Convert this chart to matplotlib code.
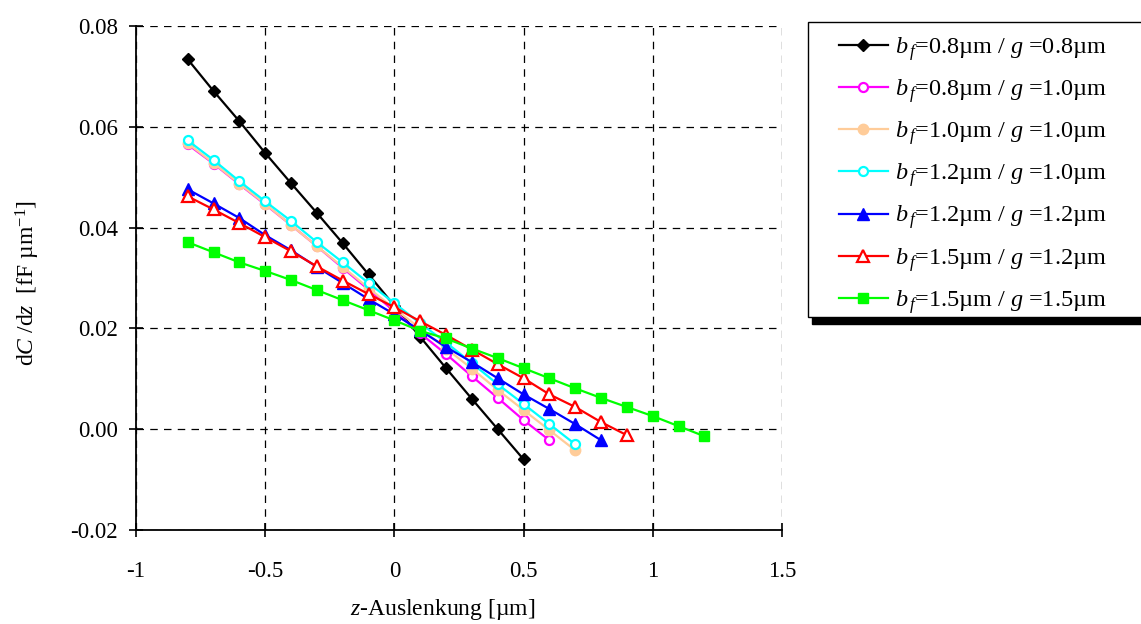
import matplotlib
matplotlib.use('Agg')
import matplotlib.pyplot as plt
from matplotlib.patches import Rectangle
import numpy as np

plt.rcParams['font.family'] = ['Liberation Serif', 'DejaVu Serif']
plt.rcParams['mathtext.fontset'] = 'custom'
plt.rcParams['mathtext.rm'] = 'Liberation Serif'
plt.rcParams['mathtext.it'] = 'Liberation Serif:italic'

# data
x_start = -0.8
labels = [
    r'$b_{\,f}$=0.8µm / $g$ =0.8µm',
    r'$b_{\,f}$=0.8µm / $g$ =1.0µm',
    r'$b_{\,f}$=1.0µm / $g$ =1.0µm',
    r'$b_{\,f}$=1.2µm / $g$ =1.0µm',
    r'$b_{\,f}$=1.2µm / $g$ =1.2µm',
    r'$b_{\,f}$=1.5µm / $g$ =1.2µm',
    r'$b_{\,f}$=1.5µm / $g$ =1.5µm',
]
bf08_g08 = [0.0734, 0.0671, 0.0611, 0.0548, 0.0488, 0.0429, 0.0369, 0.0307,
            0.0245, 0.0183, 0.0121, 0.0060, 0.0000, -0.0060]
bf08_g10 = [0.0565, 0.0527, 0.0486, 0.0446, 0.0405, 0.0363, 0.0320, 0.0277,
            0.0234, 0.0190, 0.0149, 0.0105, 0.0062, 0.0018, -0.0022]
bf10_g10 = [0.0567, 0.0528, 0.0487, 0.0447, 0.0405, 0.0363, 0.0322, 0.0280,
            0.0239, 0.0200, 0.0160, 0.0120, 0.0078, 0.0038, -0.0002, -0.0042]
bf12_g10 = [0.0573, 0.0534, 0.0492, 0.0452, 0.0413, 0.0371, 0.0331, 0.0290,
            0.0250, 0.0210, 0.0172, 0.0131, 0.0089, 0.0050, 0.0010, -0.0030]
bf12_g12 = [0.0476, 0.0448, 0.0419, 0.0385, 0.0355, 0.0322, 0.0290, 0.0258,
            0.0228, 0.0196, 0.0163, 0.0133, 0.0101, 0.0069, 0.0040, 0.0010,
            -0.0022]
bf15_g12 = [0.0462, 0.0436, 0.0409, 0.0381, 0.0353, 0.0323, 0.0295, 0.0268,
            0.0242, 0.0214, 0.0187, 0.0158, 0.0129, 0.0101, 0.0069, 0.0044,
            0.0014, -0.0012]
bf15_g15 = [0.0371, 0.0351, 0.0331, 0.0314, 0.0296, 0.0276, 0.0256, 0.0236,
            0.0216, 0.0195, 0.0180, 0.0160, 0.0141, 0.0121, 0.0101, 0.0081,
            0.0062, 0.0044, 0.0026, 0.0006, -0.0014]
series = [bf08_g08, bf08_g10, bf10_g10, bf12_g10, bf12_g12, bf15_g12, bf15_g15]

x_ticks = [-1, -0.5, 0, 0.5, 1, 1.5]
x_ticklabels = ['-1', '-0.5', '0', '0.5', '1', '1.5']
y_ticks = [-0.02, 0.0, 0.02, 0.04, 0.06, 0.08]

styles = [
    dict(color='black', marker='D', ms=6, mfc='black'),
    dict(color='#FF00FF', marker='o', ms=6.5, mfc='white', mew=1.6),
    dict(color='#FFCC99', marker='o', ms=7.5, mfc='#FFCC99'),
    dict(color='#00FFFF', marker='o', ms=6.5, mfc='white', mew=1.6),
    dict(color='#0000FF', marker='^', ms=9, mfc='#0000FF'),
    dict(color='#FF0000', marker='^', ms=8, mfc='white', mew=1.6),
    dict(color='#00FF00', marker='s', ms=7, mfc='#00FF00'),
]

W, H = 1141, 624
fig = plt.figure(figsize=(W/100, H/100), dpi=100)
ax = fig.add_axes([136/W, 94/H, 646/W, 504/H])

for y, lab, st in zip(series, labels, styles):
    x = np.round(x_start + 0.1*np.arange(len(y)), 2)
    ax.plot(x, y, lw=1.6, label=lab, mec=st['color'], **st)

ax.set_xlim(-1, 1.5)
ax.set_ylim(-0.02, 0.08)
ax.set_xticks(x_ticks)
ax.set_xticklabels(x_ticklabels)
ax.set_yticks(y_ticks)
ax.set_yticklabels(['%.2f' % v for v in y_ticks])
ax.tick_params(direction='inout', length=10, width=1.2, labelsize=16.5, colors='black')
ax.tick_params(axis='x', pad=17)
ax.tick_params(axis='y', pad=8)
ax.grid(True, color='black', ls=(0, (6, 5)), lw=0.9)
ax.spines['top'].set_visible(False)
ax.spines['right'].set_visible(False)
ax.spines['left'].set_linewidth(1.3)
ax.spines['bottom'].set_linewidth(1.3)

ax.set_xlabel(r'$z$-Auslenkung [µm]', fontsize=17)
ax.set_ylabel(r'd$C$ /d$z$  [fF µm$^{-1}$]', fontsize=17)
ax.xaxis.set_label_coords(0.475, -0.133)
ax.yaxis.set_label_coords(-0.146, 0.49)

# legend frame (runs off the right edge) and its shadow
fig.patches.append(Rectangle((812/W, (H-324)/H), 1, 7/H,
                             transform=fig.transFigure, color='black', zorder=0))
fig.patches.append(Rectangle((808/W, (H-317)/H), 400/W, 295/H,
                             transform=fig.transFigure, facecolor='white',
                             edgecolor='black', lw=1.0, zorder=1))

leg = fig.legend(loc='upper left', bbox_to_anchor=(839/W, 1 - 35/H),
                 fontsize=17.5, frameon=False, handlelength=2.0,
                 labelspacing=0.59, borderpad=0, handletextpad=0.3,
                 borderaxespad=0)

fig.savefig('out.png', dpi=100)
